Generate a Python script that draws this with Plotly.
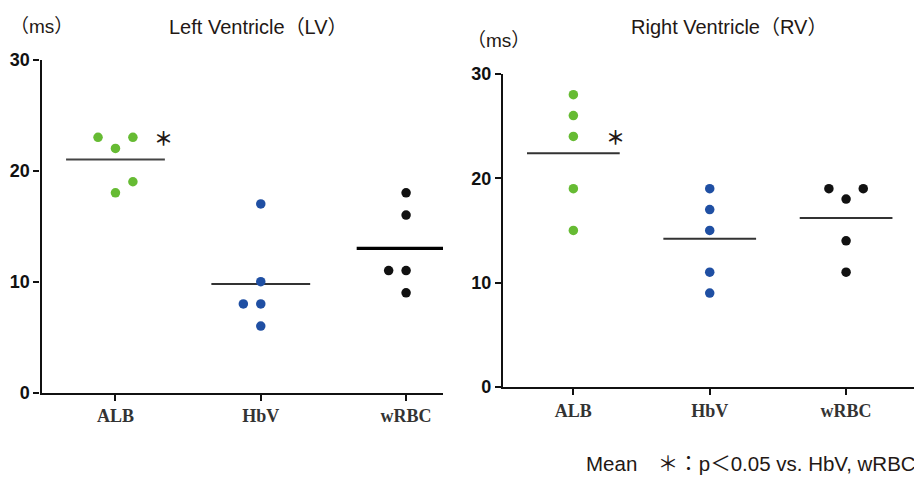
import numpy as np
import plotly.graph_objects as go

categories = ["ALB", "HbV", "wRBC"]
y_ticks = [0, 10, 20, 30]

# Left ventricle values (ms) and horizontal jitter (category units)
lv_alb = [23, 23, 22, 19, 18]
lv_alb_dx = [-0.12, 0.12, 0.0, 0.12, 0.0]
lv_hbv = [17, 10, 8, 8, 6]
lv_hbv_dx = [0.0, 0.0, -0.12, 0.0, 0.0]
lv_wrbc = [18, 16, 11, 11, 9]
lv_wrbc_dx = [0.0, 0.0, -0.12, 0.0, 0.0]

# Right ventricle values (ms)
rv_alb = [28, 26, 24, 19, 15]
rv_alb_dx = [0.0, 0.0, 0.0, 0.0, 0.0]
rv_hbv = [19, 17, 15, 11, 9]
rv_hbv_dx = [0.0, 0.0, 0.0, 0.0, 0.0]
rv_wrbc = [19, 19, 18, 14, 11]
rv_wrbc_dx = [-0.126, 0.126, 0.0, 0.0, 0.0]

colors = ["#66bb33", "#1f4fa3", "#111111"]
mean_colors_lv = ["#444444", "#333333", "#000000"]
mean_widths_lv = [2, 2, 3.2]
mean_colors_rv = ["#333333", "#333333", "#333333"]
mean_widths_rv = [2, 2, 2]

W, H = 922, 477
# observed page offset / vertical scale of the rendered figure
OX, OY, SY = 8.0, 16.0, 0.9665


def px_x(xt):
    return (xt - OX) / W


def px_y(yt):
    return 1 - ((yt - OY) / SY) / H


fig = go.Figure()


def add_panel(groups, dxs, xa, ya, mcols, mwids):
    for i, (vals, dx) in enumerate(zip(groups, dxs)):
        m = float(np.mean(vals))
        fig.add_trace(go.Scatter(
            x=[i - 0.34, i + 0.34], y=[m, m], mode="lines",
            line=dict(color=mcols[i], width=mwids[i]),
            xaxis=xa, yaxis=ya, showlegend=False, hoverinfo="skip"))
        fig.add_trace(go.Scatter(
            x=[i + d for d in dx], y=vals, mode="markers",
            marker=dict(color=colors[i], size=9.5, line=dict(width=0)),
            xaxis=xa, yaxis=ya, showlegend=False, cliponaxis=False))


add_panel([lv_alb, lv_hbv, lv_wrbc], [lv_alb_dx, lv_hbv_dx, lv_wrbc_dx],
          "x", "y", mean_colors_lv, mean_widths_lv)
add_panel([rv_alb, rv_hbv, rv_wrbc], [rv_alb_dx, rv_hbv_dx, rv_wrbc_dx],
          "x2", "y2", mean_colors_rv, mean_widths_rv)

xaxis_common = dict(
    tickmode="array", tickvals=[0, 1, 2], ticktext=categories,
    showgrid=False, zeroline=False, showline=True, linecolor="#111111",
    linewidth=2.2, ticks="outside", ticklen=6, tickwidth=2, tickcolor="#111111",
    tickfont=dict(family="Liberation Serif", size=18, color="#333333", weight="bold"),
    fixedrange=True,
)
yaxis_common = dict(
    range=[0, 30], tickmode="array", tickvals=y_ticks,
    showgrid=False, zeroline=False, showline=True, linecolor="#111111",
    linewidth=2.2, ticks="outside", ticklen=6, tickwidth=2, tickcolor="#111111",
    tickfont=dict(family="Liberation Sans", size=18, color="#111111", weight="bold"),
    ticklabelstandoff=0, fixedrange=True,
)

fig.update_layout(
    width=W, height=H,
    margin=dict(l=0, r=0, t=0, b=0),
    paper_bgcolor="white", plot_bgcolor="white",
    xaxis=dict(xaxis_common, domain=[px_x(41.5), px_x(443)], range=[-0.509, 2.254], anchor="y"),
    yaxis=dict(yaxis_common, domain=[px_y(394), px_y(58)], anchor="x"),
    xaxis2=dict(xaxis_common, domain=[px_x(503), px_x(917)], range=[-0.516, 2.52], anchor="y2"),
    yaxis2=dict(yaxis_common, domain=[px_y(388.3), px_y(72.3)], anchor="x2"),
)

font_title = dict(family="Liberation Sans, Noto Sans CJK JP", size=20, color="#231815")
font_unit = dict(family="Liberation Sans, Noto Sans CJK JP", size=19, color="#231815")
font_note = dict(family="Liberation Sans, Noto Sans CJK JP", size=20.5, color="#231815")

annos = [
    dict(text="（ms）", x=px_x(8), y=px_y(25), xanchor="left", font=font_unit),
    dict(text="Left Ventricle（LV）", x=px_x(258), y=px_y(25), xanchor="center", font=font_title),
    dict(text="Right Ventricle（RV）", x=px_x(729), y=px_y(25), xanchor="center", font=font_title),
    dict(text="（ms）", x=px_x(465), y=px_y(39), xanchor="left", font=font_unit),
    dict(text="Mean　＊：p＜0.05 vs. HbV, wRBC", x=px_x(918), y=px_y(465), xanchor="right", font=font_note),
]
for a in annos:
    fig.add_annotation(xref="paper", yref="paper", yanchor="middle",
                       showarrow=False, **a)

# significance asterisks
fig.add_annotation(xref="x", yref="y", x=0.33, y=23, text="＊", showarrow=False,
                   font=dict(family="Noto Sans CJK JP", size=19, color="#231815", weight="bold"))
fig.add_annotation(xref="x2", yref="y2", x=0.31, y=24, text="＊", showarrow=False,
                   font=dict(family="Noto Sans CJK JP", size=19, color="#231815", weight="bold"))

fig.write_html("out.html")
